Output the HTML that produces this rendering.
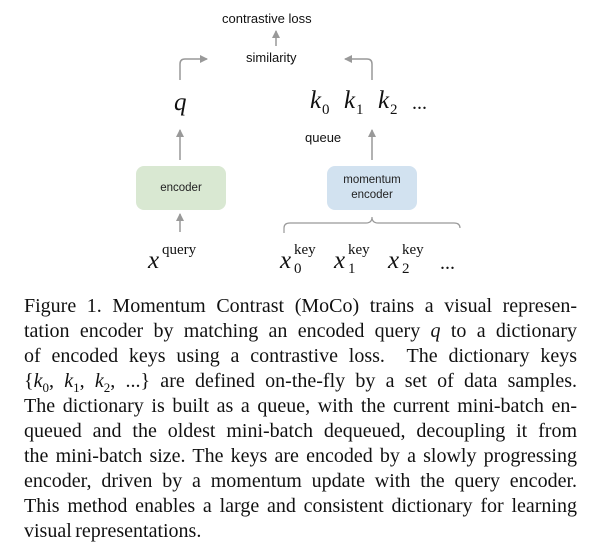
<!DOCTYPE html>
<html><head><style>
body{margin:0;width:607px;height:550px;background:#fff;position:relative;overflow:hidden}
.s{position:absolute;font-family:"Liberation Sans",sans-serif;color:#111;font-size:13px;white-space:nowrap}
.m{position:absolute;font-family:"Liberation Serif",serif;font-style:italic;color:#111;white-space:nowrap;font-size:25px;line-height:25px}
.n{position:absolute;font-family:"Liberation Serif",serif;color:#111;white-space:nowrap;font-size:15px;line-height:15px}
.box{position:absolute;border-radius:8px;font-family:"Liberation Sans",sans-serif;font-size:11.5px;color:#222;text-align:center;display:flex;align-items:center;justify-content:center;line-height:15px}
.cap{position:absolute;left:24px;width:553px;font-family:"Liberation Serif",serif;font-size:20px;color:#111;line-height:25px;word-spacing:-1.5px}
.cap div{text-align:justify;text-align-last:justify;white-space:nowrap;height:25px}
.cap div.l{text-align-last:left}
sub{font-style:normal;font-size:65%}
</style></head><body>
<svg width="607" height="290" style="position:absolute;left:0;top:0" fill="none" stroke="#999" stroke-width="1.5">
<defs><marker id="a" markerWidth="8" markerHeight="8" refX="7" refY="4" orient="auto" markerUnits="userSpaceOnUse"><path d="M0,0 L8,4 L0,8 Z" fill="#999" stroke="none"/></marker></defs>
<line x1="276" y1="46" x2="276" y2="31" marker-end="url(#a)"/>
<path d="M180,80 V64 Q180,59 185,59 H207" marker-end="url(#a)"/>
<path d="M372,80 V64 Q372,59 367,59 H345" marker-end="url(#a)"/>
<line x1="180" y1="160" x2="180" y2="130" marker-end="url(#a)"/>
<line x1="372" y1="160" x2="372" y2="130" marker-end="url(#a)"/>
<line x1="180" y1="232" x2="180" y2="214" marker-end="url(#a)"/>
<path d="M284,233 V228 Q284,223 290,223 H366 Q372,223 372,217 Q372,223 378,223 H454 Q460,223 460,228" stroke-width="1.2"/>
</svg>
<div class="s" style="left:222px;top:11px">contrastive loss</div>
<div class="s" style="left:246px;top:50px">similarity</div>
<div class="s" style="left:305px;top:130px">queue</div>
<div class="m" style="left:174px;top:90px">q</div>
<div class="m" style="left:310px;top:88px">k</div><div class="n" style="left:322px;top:103px">0</div>
<div class="m" style="left:344px;top:88px">k</div><div class="n" style="left:356px;top:103px">1</div>
<div class="m" style="left:378px;top:88px">k</div><div class="n" style="left:390px;top:103px">2</div>
<div class="n" style="left:412px;top:96px;font-size:20px">...</div>
<div class="box" style="left:136px;top:166px;width:90px;height:44px;background:#d9e8d2">encoder</div>
<div class="box" style="left:327px;top:166px;width:90px;height:44px;background:#d2e2f0">momentum<br>encoder</div>
<div class="m" style="left:148px;top:248px">x</div><div class="n" style="left:162px;top:243px">query</div>
<div class="m" style="left:280px;top:248px">x</div><div class="n" style="left:294px;top:243px">key</div><div class="n" style="left:294px;top:262px">0</div>
<div class="m" style="left:334px;top:248px">x</div><div class="n" style="left:348px;top:243px">key</div><div class="n" style="left:348px;top:262px">1</div>
<div class="m" style="left:388px;top:248px">x</div><div class="n" style="left:402px;top:243px">key</div><div class="n" style="left:402px;top:262px">2</div>
<div class="n" style="left:440px;top:256px;font-size:20px">...</div>
<div class="cap" style="top:294px">
<div>Figure 1. Momentum Contrast (MoCo) trains a visual represen-</div>
<div>tation encoder by matching an encoded query <i>q</i> to a dictionary</div>
<div>of encoded keys using a contrastive loss. &nbsp;The dictionary keys</div>
<div>{<i>k</i><sub>0</sub>, <i>k</i><sub>1</sub>, <i>k</i><sub>2</sub>, ...} are defined on-the-fly by a set of data samples.</div>
<div>The dictionary is built as a queue, with the current mini-batch en-</div>
<div>queued and the oldest mini-batch dequeued, decoupling it from</div>
<div>the mini-batch size. The keys are encoded by a slowly progressing</div>
<div>encoder, driven by a momentum update with the query encoder.</div>
<div>This method enables a large and consistent dictionary for learning</div>
<div class="l">visual representations.</div>
</div>
</body></html>
